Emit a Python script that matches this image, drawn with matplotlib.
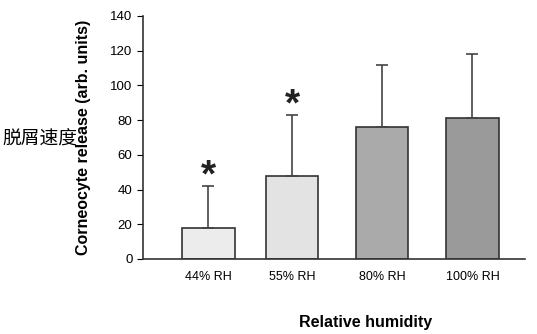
import matplotlib.pyplot as plt

plt.rcParams['font.family'] = ['Liberation Sans', 'DejaVu Sans']

categories = ['44% RH', '55% RH', '80% RH', '100% RH']
means = [18, 48, 76, 81]
errors = [24, 35, 36, 37]
significant = [True, True, False, False]
colors = ['#ececec', '#e3e3e3', '#aaaaaa', '#9a9a9a']
positions = [1, 1.93, 2.93, 3.93]

fig = plt.figure(figsize=(5.37, 3.34), dpi=100)
ax = fig.add_axes([0.266, 0.2246, 0.712, 0.7276])

ax.bar(positions, means, width=0.58, color=colors, edgecolor='#333333', linewidth=1.2)
ax.errorbar(positions, means, yerr=[[0] * 4, errors], fmt='none', ecolor='#444444',
            elinewidth=1.2, capsize=4, capthick=1.2)
for x, m, e, s in zip(positions, means, errors, significant):
    if s:
        ax.text(x, m + e - 5, '*', ha='center', va='bottom', fontsize=28,
                fontweight='bold', color='#222222')

ax.set_xlim(0.272, 4.516)
ax.set_ylim(0, 140)
ax.set_yticks(range(0, 141, 20))
ax.set_xticks(positions)
ax.set_xticklabels(categories, fontsize=9)
ax.tick_params(axis='x', length=0, pad=9)
ax.tick_params(axis='y', labelsize=9.5, length=4, direction='out')
for sp in ['top', 'right']:
    ax.spines[sp].set_visible(False)
ax.spines['left'].set_linewidth(1.2)
ax.spines['bottom'].set_linewidth(1.2)
ax.spines['left'].set_color('#333333')
ax.spines['bottom'].set_color('#333333')

ax.set_ylabel('Corneocyte release (arb. units)', fontsize=11.5, fontweight='bold', labelpad=14)
fig.text(0.68, 0.033, 'Relative humidity', ha='center', va='center', fontsize=11.5, fontweight='bold')
fig.text(0.005, 0.585, '脱屑速度', ha='left', va='center', fontsize=13.5,
         family=['Noto Sans CJK SC', 'DejaVu Sans'])

fig.savefig('out.png', dpi=100)
